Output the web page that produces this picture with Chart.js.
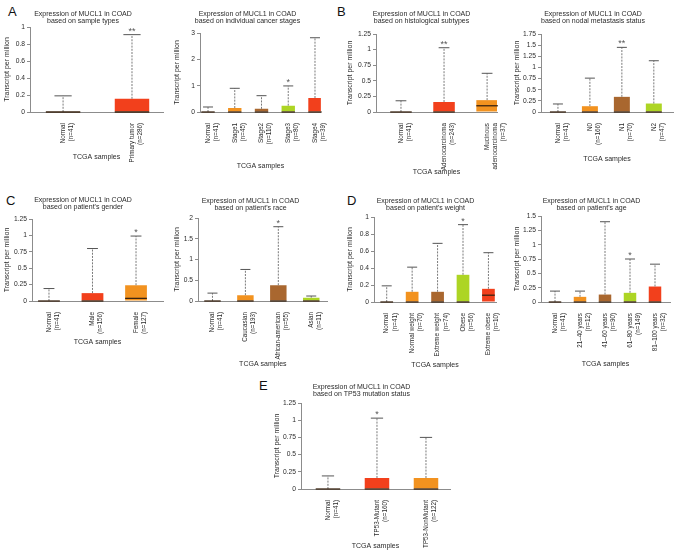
<!DOCTYPE html>
<html lang="en">
<head>
<meta charset="UTF-8">
<title>Expression of MUCL1 in COAD</title>
<script src="https://cdn.jsdelivr.net/npm/chart.js"></script>
<style>
  html, body { margin: 0; padding: 0; background: #fff; overflow: hidden; }
  #fig { position: relative; width: 677px; height: 550px; overflow: hidden; }
  #fig canvas { position: absolute; }
  .letter { position: absolute; font: 13px 'Liberation Sans', Arial, sans-serif; color: #111; line-height: 1; }
</style>
</head>
<body>
<div id="fig">
  <div class="letter" style="left:8px;top:5px">A</div>
  <div class="letter" style="left:337px;top:5px">B</div>
  <div class="letter" style="left:6px;top:194px">C</div>
  <div class="letter" style="left:347px;top:194px">D</div>
  <div class="letter" style="left:259px;top:379px">E</div>
</div>
<script>
// ---- data ----
const normalLabel = ['Normal', '(n=41)'];

const typeLabels = [normalLabel, ['Primary tumor', '(n=286)']];
const typeUpper = [0, 0.155];
const typeMedian = [0, 0];
const typeMax = [0.19, 0.91];
const typeStars = ['', '**'];
const typeTicks = [0, 0.2, 0.4, 0.6, 0.8, 1];

const stageLabels = [normalLabel, ['Stage1', '(n=45)'], ['Stage2', '(n=110)'], ['Stage3', '(n=80)'], ['Stage4', '(n=39)']];
const stageUpper = [0, 0.15, 0.12, 0.24, 0.53];
const stageMedian = [0, 0, 0, 0, 0];
const stageMax = [0.19, 0.9, 0.62, 0.99, 2.82];
const stageStars = ['', '', '', '*', ''];
const stageTicks = [0, 1, 2, 3];

const histLabels = [normalLabel, ['Adenocarcinoma', '(n=243)'], ['Mucinous', 'adenocarcinoma', '(n=37)']];
const histUpper = [0, 0.16, 0.19];
const histMedian = [0, 0, 0.10];
const histMax = [0.18, 1.03, 0.62];
const histStars = ['', '**', ''];
const histTicks = [0, 0.25, 0.5, 0.75, 1, 1.25];

const nodalLabels = [normalLabel, ['N0', '(n=166)'], ['N1', '(n=70)'], ['N2', '(n=47)']];
const nodalUpper = [0, 0.13, 0.34, 0.19];
const nodalMedian = [0, 0, 0, 0];
const nodalMax = [0.18, 0.76, 1.45, 1.15];
const nodalStars = ['', '', '**', ''];
const nodalTicks = [0, 0.25, 0.5, 0.75, 1, 1.25, 1.5, 1.75];

const genderLabels = [normalLabel, ['Male', '(n=156)'], ['Female', '(n=127)']];
const genderUpper = [0, 0.12, 0.24];
const genderMedian = [0, 0, 0.04];
const genderMax = [0.19, 0.8, 0.99];
const genderStars = ['', '', '*'];
const genderTicks = [0, 0.25, 0.5, 0.75, 1, 1.25];

const raceLabels = [normalLabel, ['Caucasian', '(n=193)'], ['African-american', '(n=55)'], ['Asian', '(n=11)']];
const raceUpper = [0, 0.14, 0.38, 0.08];
const raceMedian = [0, 0, 0, 0];
const raceMax = [0.19, 0.76, 1.79, 0.12];
const raceStars = ['', '', '*', ''];
const raceTicks = [0, 0.5, 1, 1.5, 2];

const weightLabels = [normalLabel, ['Normal weight', '(n=70)'], ['Extreme weight', '(n=74)'], ['Obese', '(n=56)'], ['Extreme obese', '(n=10)']];
const weightUpper = [0, 0.12, 0.12, 0.32, 0.155];
const weightMedian = [0, 0, 0, 0, 0.08];
const weightMax = [0.19, 0.41, 0.69, 0.91, 0.58];
const weightStars = ['', '', '', '*', ''];
const weightTicks = [0, 0.2, 0.4, 0.6, 0.8, 1];

const ageLabels = [normalLabel, ['21\u201340 years', '(n=12)'], ['41\u201360 years', '(n=90)'], ['61\u201380 years', '(n=149)'], ['81\u2013100 years', '(n=32)']];
const ageUpper = [0, 0.09, 0.13, 0.16, 0.27];
const ageMedian = [0, 0, 0, 0, 0];
const ageMax = [0.19, 0.19, 1.4, 0.75, 0.66];
const ageStars = ['', '', '', '*', ''];
const ageTicks = [0, 0.25, 0.5, 0.75, 1, 1.25, 1.5];

const tp53Labels = [normalLabel, ['TP53-Mutant', '(n=160)'], ['TP53-NonMutant', '(n=122)']];
const tp53Upper = [0, 0.16, 0.16];
const tp53Median = [0, 0, 0];
const tp53Max = [0.19, 1.03, 0.75];
const tp53Stars = ['', '*', ''];
const tp53Ticks = [0, 0.25, 0.5, 0.75, 1, 1.25];

// ---- colours ----
const BLUE = '#2f5f9e', RED = '#f2401c', ORANGE = '#f2921f', BROWN = '#a9672f', GREEN = '#add524';

const FONT = "'Liberation Sans', Arial, sans-serif";
const FS = 7;
const LH = FS * 1.05;
const EXTRA = 24;   // room under the axis title so long tick labels are not cut
const AXIS = '#8c8c8c';
const TEXT = '#2a2a2a';

// whiskers, caps, medians and stars, placed through the chart's own scales
const boxPlugin = {
  id: 'boxWhisker',
  afterDatasetsDraw(chart, args, opts) {
    const { ctx } = chart;
    const y = chart.scales.y;
    const meta = chart.getDatasetMeta(0);
    meta.data.forEach((bar, i) => {
      const cx = bar.x;
      const w = bar.width;
      const cap = Math.max(w * 0.25, 5);
      const yTop = y.getPixelForValue(opts.upper[i]);
      const yMax = y.getPixelForValue(opts.max[i]);
      ctx.save();
      ctx.strokeStyle = '#7a7a7a';
      ctx.lineWidth = 1;
      ctx.setLineDash([2, 1.2]);
      ctx.beginPath();
      ctx.moveTo(cx, yTop);
      ctx.lineTo(cx, yMax);
      ctx.stroke();
      ctx.setLineDash([]);
      ctx.strokeStyle = '#555';
      ctx.beginPath();
      ctx.moveTo(cx - cap, yMax);
      ctx.lineTo(cx + cap, yMax);
      ctx.stroke();
      // median
      const yMed = y.getPixelForValue(opts.median[i]);
      ctx.strokeStyle = '#3a2412';
      ctx.lineWidth = 1.3;
      ctx.beginPath();
      ctx.moveTo(cx - w / 2, yMed);
      ctx.lineTo(cx + w / 2, yMed);
      ctx.stroke();
      if (opts.stars[i]) {
        ctx.fillStyle = '#555';
        ctx.font = '9px ' + FONT;
        ctx.textAlign = 'center';
        ctx.textBaseline = 'bottom';
        ctx.fillText(opts.stars[i], cx, yMax + 1);
      }
      ctx.restore();
    });
  }
};

// layout of each panel on the page: canvas box, plot rectangle [left, top, right, bottom]
// and the x range (in category index units) that the axis spans
const panels = [
  { left: 3, top: 0, width: 164, titleY: 14, xTitleY: 157, plot: [30, 27, 163, 112], xRange: [-0.48, 1.45],
    sub: 'based on sample types', labels: typeLabels, upper: typeUpper, median: typeMedian, max: typeMax, stars: typeStars, ticks: typeTicks, colors: [BLUE, RED] },
  { left: 173, top: 0, width: 162, titleY: 14, xTitleY: 166, plot: [200, 33, 322, 112], xRange: [-0.3, 4.22],
    sub: 'based on individual cancer stages', labels: stageLabels, upper: stageUpper, median: stageMedian, max: stageMax, stars: stageStars, ticks: stageTicks, colors: [BLUE, ORANGE, BROWN, GREEN, RED] },
  { left: 346, top: 0, width: 172, titleY: 14, xTitleY: 172, plot: [376, 34, 497, 112], xRange: [-0.58, 2.23],
    sub: 'based on histological subtypes', labels: histLabels, upper: histUpper, median: histMedian, max: histMax, stars: histStars, ticks: histTicks, colors: [BLUE, RED, ORANGE] },
  { left: 513, top: 0, width: 170, titleY: 14, xTitleY: 159, plot: [541, 34, 673, 112], xRange: [-0.53, 3.6],
    sub: 'based on nodal metastasis status', labels: nodalLabels, upper: nodalUpper, median: nodalMedian, max: nodalMax, stars: nodalStars, ticks: nodalTicks, colors: [BLUE, ORANGE, BROWN, GREEN] },
  { left: 3, top: 180, width: 164, titleY: 200, xTitleY: 342, plot: [32, 219, 163, 301], xRange: [-0.39, 2.62],
    sub: "based on patient's gender", labels: genderLabels, upper: genderUpper, median: genderMedian, max: genderMax, stars: genderStars, ticks: genderTicks, colors: [BLUE, RED, ORANGE] },
  { left: 173, top: 180, width: 158, titleY: 201, xTitleY: 364, plot: [198, 218, 328, 301], xRange: [-0.44, 3.5],
    sub: "based on patient's race", labels: raceLabels, upper: raceUpper, median: raceMedian, max: raceMax, stars: raceStars, ticks: raceTicks, colors: [BLUE, ORANGE, BROWN, GREEN] },
  { left: 346, top: 180, width: 162, titleY: 201, xTitleY: 365, plot: [374, 217, 505, 302], xRange: [-0.5, 4.3],
    sub: "based on patient's weight", labels: weightLabels, upper: weightUpper, median: weightMedian, max: weightMax, stars: weightStars, ticks: weightTicks, colors: [BLUE, ORANGE, BROWN, GREEN, RED] },
  { left: 513, top: 180, width: 178, titleY: 201, xTitleY: 364, plot: [541, 216, 670, 302], xRange: [-0.56, 4.6],
    sub: "based on patient's age", labels: ageLabels, upper: ageUpper, median: ageMedian, max: ageMax, stars: ageStars, ticks: ageTicks, colors: [BLUE, ORANGE, BROWN, GREEN, RED] },
  { left: 273, top: 365, width: 180, titleY: 387, xTitleY: 546, plot: [301, 403, 450, 489], xRange: [-0.55, 2.49],
    sub: 'based on TP53 mutation status', labels: tp53Labels, upper: tp53Upper, median: tp53Median, max: tp53Max, stars: tp53Stars, ticks: tp53Ticks, colors: [BLUE, RED, ORANGE] }
];

const font = { family: FONT, size: FS, lineHeight: 1.05, weight: 'normal' };
const xTickFont = { family: FONT, size: 6.3, lineHeight: 1.3 };
const yTickFont = { family: FONT, size: 6.7, lineHeight: 1.15 };

function drawPanel(p) {
  const cv = document.createElement('canvas');
  const height = Math.round(p.xTitleY + LH / 2 - p.top) + EXTRA;
  cv.width = p.width;
  cv.height = height;
  cv.style.left = p.left + 'px';
  cv.style.top = p.top + 'px';
  document.getElementById('fig').appendChild(cv);

  const [pl, pt, pr, pb] = p.plot;
  const titleTop = p.titleY - LH / 2 - p.top;
  const yWidth = pl - p.left;
  const xHeight = p.top + height - pb;

  new Chart(cv, {
    type: 'bar',
    data: {
      datasets: [{
        data: p.upper.map((v, i) => ({ x: i, y: [0, v] })),
        backgroundColor: p.colors,
        borderWidth: 0,
        barPercentage: 0.5,
        categoryPercentage: 1
      }]
    },
    options: {
      responsive: false,
      animation: false,
      layout: { padding: { left: 0, top: 0, bottom: 0, right: p.left + p.width - pr } },
      plugins: {
        legend: { display: false },
        tooltip: { enabled: false },
        title: {
          display: true,
          text: ['Expression of MUCL1 in COAD', p.sub],
          color: TEXT,
          font: font,
          padding: { top: titleTop, bottom: pt - p.top - titleTop - 2 * LH }
        },
        boxWhisker: { upper: p.upper, median: p.median, max: p.max, stars: p.stars }
      },
      scales: {
        x: {
          type: 'linear',
          offset: false,
          min: p.xRange[0],
          max: p.xRange[1],
          grid: { display: false },
          border: { display: true, color: AXIS },
          afterBuildTicks: s => { s.ticks = p.labels.map((l, i) => ({ value: i })); },
          ticks: { autoSkip: false, maxRotation: 90, minRotation: 90, padding: 3, color: TEXT, font: xTickFont,
                   callback: v => p.labels[v] },
          title: { display: true, text: 'TCGA samples', color: TEXT, font: font, padding: { top: 0, bottom: EXTRA } },
          afterFit: s => { s.height = xHeight; }
        },
        y: {
          min: 0,
          max: p.ticks[p.ticks.length - 1],
          grid: { drawOnChartArea: false, tickLength: 3, color: AXIS },
          border: { display: true, color: AXIS },
          ticks: { padding: 2, color: TEXT, font: yTickFont, callback: v => String(v) },
          afterBuildTicks: s => { s.ticks = p.ticks.map(v => ({ value: v })); },
          title: { display: true, text: 'Transcript per million', color: TEXT, font: font, padding: 0 },
          afterFit: s => { s.width = yWidth; }
        }
      }
    },
    plugins: [boxPlugin]
  });
}

panels.forEach(drawPanel);
</script>
</body>
</html>
